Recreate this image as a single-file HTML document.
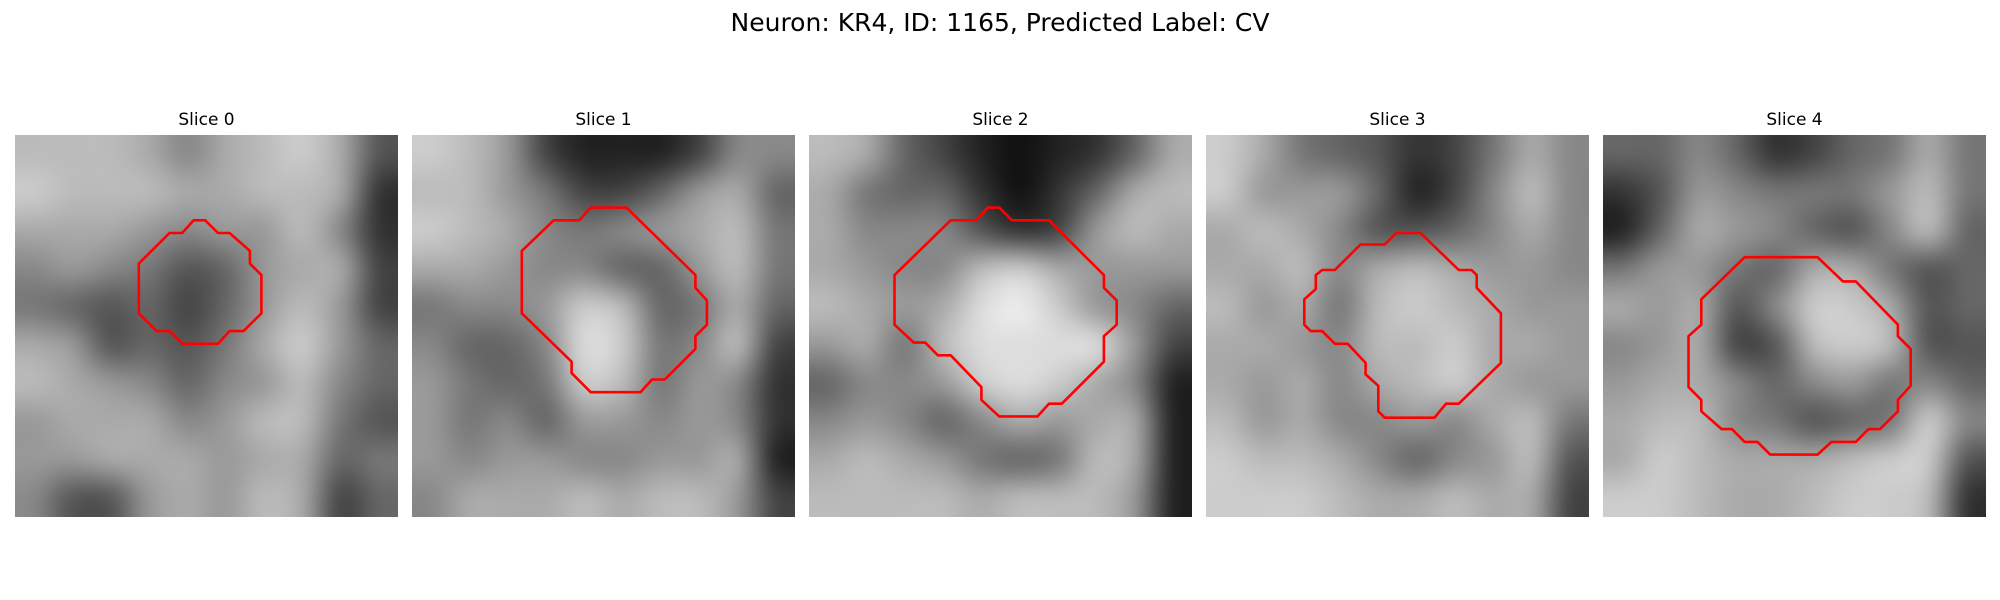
<!DOCTYPE html>
<html><head><meta charset="utf-8"><style>
html,body{margin:0;padding:0;background:#fff;}
#root{position:relative;width:2000px;height:600px;overflow:hidden;font-family:"DejaVu Sans","Liberation Sans",sans-serif;}
#title{position:absolute;left:0;width:2000px;top:8px;text-align:center;font-size:25px;color:#000;}
.st{position:absolute;width:383px;text-align:center;font-size:17px;top:110px;color:#000;}
canvas{position:absolute;top:135px;width:383px;height:382px;}
svg{position:absolute;left:0;top:0;}
</style></head><body>
<div id="root">
<div id="title">Neuron: KR4, ID: 1165, Predicted Label: CV</div>
<div class="st" style="left:15px">Slice 0</div>
<div class="st" style="left:412px">Slice 1</div>
<div class="st" style="left:809px">Slice 2</div>
<div class="st" style="left:1206px">Slice 3</div>
<div class="st" style="left:1603px">Slice 4</div>
<svg id="ov" width="2000" height="600"></svg>
</div>
<script>
// coarse 10x10 intensity grids (hex digit 0-f) per slice
const slice0 = ["bbba8abca5","cbbbaabba3","aaa9899b83","8987569aa4","7656469b94","a9565 7ac96","ba98689b86","9aaa89bb75","99aaa9aa67","8559a9ba46"];
const slice1 = ["cb94222488","bb97446 9a6","cba8789ab7","aa98866 9b7","7889cb67a6","8668dc78b4","9767cb7983","9786998983","98998899a2","8aaabab b94"];
const slice2 = ["ba6421236a","a766313 6ab","a888534 9ba","a988bca999","ba9adec986","9a7bdddd94","6889cdca82","89868a9aa2","aba9767ba2","bbbbabbb92"];
const slice3 = ["ca76534 7a8","c9996248b8","aba855 68a8","aab8aba998","b9a7bcba99","aa98bbcaa9","a9a8abca99","b9a8898ab7","cbba8689b5","cccbaaba a4"];
const slice4 = ["6686346 7a7","3598777 9b7","26a9865 8b6","7997 6aa756","a9a58cca56","89a45bcb55","9aa8689786","abb87567c8","acbaaabcc5","ccbaabccb3"];
const grids = [slice0, slice1, slice2, slice3, slice4];
// contour vertices in image-cell units (0..30)
const contour0 = [[14.0,6.7],[14.9,6.7],[15.9,7.7],[16.8,7.7],[18.4,9.1],[18.4,10.1],[19.3,11.0],[19.3,14.0],[17.9,15.4],[16.8,15.4],[15.9,16.4],[13.1,16.4],[12.1,15.4],[11.1,15.4],[9.7,14.0],[9.7,10.1],[12.1,7.7],[13.1,7.7]];
const contour1 = [[14.0,5.7],[16.8,5.7],[22.2,11.0],[22.2,12.0],[23.1,13.0],[23.1,14.9],[22.2,15.8],[22.2,16.8],[19.8,19.2],[18.8,19.2],[17.9,20.2],[14.0,20.2],[12.5,18.7],[12.5,17.8],[8.6,14.0],[8.6,9.1],[11.1,6.7],[13.1,6.7]];
const contour2 = [[14.0,5.7],[14.9,5.7],[15.9,6.7],[18.8,6.7],[23.1,11.0],[23.1,12.0],[24.1,13.0],[24.1,14.9],[23.1,15.8],[23.1,17.8],[19.8,21.1],[18.8,21.1],[17.9,22.1],[14.9,22.1],[13.5,20.8],[13.5,19.8],[11.1,17.3],[10.1,17.3],[9.1,16.3],[8.2,16.3],[6.7,14.9],[6.7,11.0],[11.1,6.7],[13.1,6.7]];
const contour3 = [[14.9,7.7],[16.8,7.7],[19.8,10.6],[20.8,10.6],[21.2,11.0],[21.2,12.0],[23.1,14.0],[23.1,17.9],[19.8,21.1],[18.8,21.1],[17.9,22.2],[14.0,22.2],[13.5,21.7],[13.5,19.7],[12.5,18.8],[12.5,17.9],[11.1,16.4],[10.1,16.4],[9.1,15.4],[8.2,15.4],[7.7,14.9],[7.7,12.9],[8.6,12.1],[8.6,11.0],[9.1,10.6],[10.1,10.6],[12.1,8.6],[14.0,8.6]];
const contour4 = [[11.1,9.6],[16.8,9.6],[18.8,11.5],[19.8,11.5],[23.1,14.9],[23.1,15.8],[24.1,16.8],[24.1,19.7],[23.1,20.8],[23.1,21.7],[21.7,23.1],[20.8,23.1],[19.8,24.1],[17.9,24.1],[16.8,25.1],[13.1,25.1],[12.1,24.1],[11.1,24.1],[10.1,23.1],[9.3,23.1],[7.7,21.7],[7.7,20.8],[6.7,19.8],[6.7,15.8],[7.7,14.9],[7.7,12.9]];
const contours = [contour0, contour1, contour2, contour3, contour4];

const PL = [15, 412, 809, 1206, 1603], PT = 135, PW = 383, PH = 382, N = 30;
const root = document.getElementById('root');
const ov = document.getElementById('ov');
function xs(i, c){ return PL[i] + c * PW / N; }
function ys(r){ return PT + r * PH / N; }
grids.forEach((g, i) => {
  const rows = g.map(s => s.replace(/[^0-9a-f]/g, ''));
  const small = document.createElement('canvas');
  small.width = 10; small.height = 10;
  const sc = small.getContext('2d');
  const img = sc.createImageData(10, 10);
  for (let r = 0; r < 10; r++) for (let c = 0; c < 10; c++) {
    const ch = rows[r][c] || '8';
    const v = parseInt(ch, 16) * 17;
    const k = (r * 10 + c) * 4;
    img.data[k] = img.data[k+1] = img.data[k+2] = v; img.data[k+3] = 255;
  }
  sc.putImageData(img, 0, 0);
  const cv = document.createElement('canvas');
  cv.width = PW; cv.height = PH;
  cv.style.left = PL[i] + 'px';
  
  
  const ctx = cv.getContext('2d');
  ctx.imageSmoothingEnabled = true;
  ctx.imageSmoothingQuality = 'high';
  ctx.drawImage(small, 0, 0, 10, 10, 0, 0, PW, PH);
  root.insertBefore(cv, ov);
});
contours.forEach((pts, i) => {
  const p = document.createElementNS('http://www.w3.org/2000/svg', 'polygon');
  p.setAttribute('points', pts.map(q => xs(i, q[0]).toFixed(1) + ',' + ys(q[1]).toFixed(1)).join(' '));
  p.setAttribute('fill', 'none');
  p.setAttribute('stroke', '#ff0000');
  p.setAttribute('stroke-width', '2.6');
  p.setAttribute('stroke-linejoin', 'round');
  
  
  ov.appendChild(p);
});
</script>
</body></html>
